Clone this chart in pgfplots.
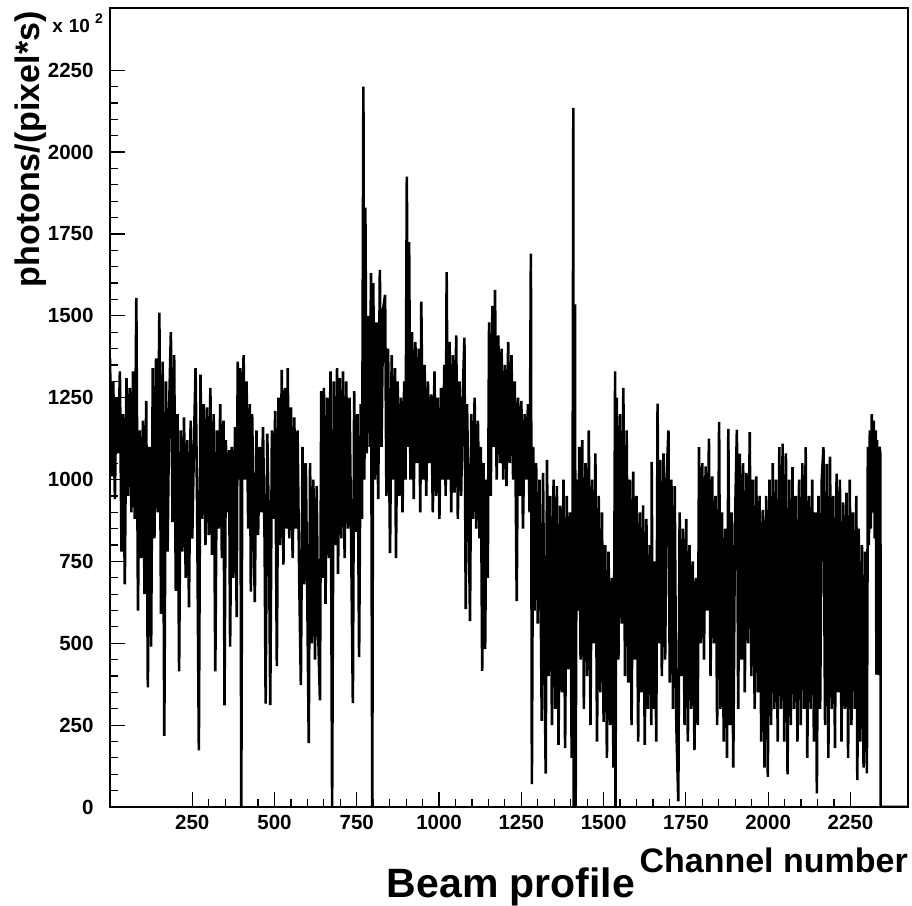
\documentclass[border=0pt]{standalone}
\usepackage{fontspec}
\setmainfont{Liberation Sans}
\usepackage{pgfplots}
\pgfplotsset{compat=1.18}
\begin{document}
\begin{tikzpicture}
\useasboundingbox (-110bp,-99bp) rectangle (802bp,807bp);
\begin{axis}[
    at={(0,0)}, anchor=south west,
    scale only axis, width=798bp, height=799bp,
    xmin=0, xmax=2425, ymin=0, ymax=2440,
    xtick={250,500,...,2250}, ytick={0,250,...,2250},
    minor x tick num=4, minor y tick num=4,
    xtick pos=bottom, ytick pos=left, tick align=inside,
    major tick length=15bp, minor tick length=8bp,
    axis line style={line width=1.2bp},
    every tick/.style={black, line width=1.2bp},
    /pgf/number format/assume math mode=true,
    /pgf/number format/set thousands separator={},
    ticklabel style={font=\bfseries\fontsize{20.5bp}{24bp}\selectfont},
    xticklabel style={yshift=-5bp},
    yticklabel style={xshift=-13bp},
    clip=true,
]
% histogram of the beam profile, one value every few channels
\addplot[sharp plot, mark=none, black, line width=2.6bp, line join=bevel] coordinates {
(0,1370)(5,1010)(10,1300)(13,1050)(15,940)(18,1200)(20,1250)(25,1080)(30,1330)(35,780)(40,1200)(45,680)
(50,1310)(53,1000)(55,950)(58,1220)(60,1280)(65,900)(70,1330)(75,880)(80,1555)(85,600)(90,1150)(95,760)
(100,1180)(105,650)(110,1240)(115,365)(120,1100)(125,490)(130,1340)(135,820)(140,1370)(145,900)
(150,1510)(155,590)(160,1360)(165,217)(170,1300)(175,780)(180,1230)(185,1450)(190,870)(195,1380)
(200,660)(205,1200)(210,414)(215,1150)(220,780)(225,1190)(230,700)(235,1120)(240,610)(245,1180)
(250,820)(255,1100)(260,1340)(265,900)(270,173)(275,1320)(280,880)(285,1230)(290,800)(295,1220)
(300,830)(305,1280)(310,770)(315,1200)(320,414)(325,1150)(330,850)(335,1230)(340,760)(345,1180)
(348,310)(352,1120)(357,900)(362,1090)(365,490)(370,1100)(375,700)(380,1160)(385,580)(388,1360)
(392,1000)(396,1340)(399,0)(402,1150)(406,1380)
(410,1000)(415,1300)(420,850)(425,1230)(428,658)(432,1200)(436,900)(440,626)(445,1150)(450,830)
(455,1100)(460,900)(465,1160)(470,800)(473,316)(478,1140)(483,850)(487,311)(492,1150)(497,880)
(502,1210)(507,430)(512,1250)(517,800)(522,1335)(527,740)(532,1280)(537,850)(540,1340)(545,820)
(550,1220)(555,760)(560,1190)(565,850)(570,1150)(575,700)(580,372)(585,1100)(590,680)(595,1050)
(600,600)(604,195)(608,1050)(613,500)(618,1000)(623,450)(628,980)(633,520)(638,326)(642,1270)
(646,700)(650,1280)(655,620)(660,1250)(665,760)(670,1330)(675,0)(680,1300)(685,800)(690,1340)
(693,712)(698,1310)(703,820)(708,1330)(713,760)(718,1300)(723,850)(728,1250)(733,800)(738,317)
(742,1270)(747,840)(752,1200)(757,458)(762,1230)(766,880)(770,2200)(773,1000)(776,1830)(780,1080)
(785,1500)(790,1100)(793,1630)(797,0)(800,1600)(805,1000)(810,1480)(815,940)
(820,1640)(825,1100)(830,1520)(836,1564)(840,950)(845,1400)(851,775)(856,1380)(861,1000)(866,1340)
(869,760)(874,1300)(879,950)(884,1250)(889,900)(894,1300)(898,1000)(902,1925)(906,1100)(909,1725)
(913,1000)(918,1450)(923,940)(928,1420)(933,1050)(938,1400)(943,900)(946,1543)(951,1000)(956,1350)
(961,950)(966,1300)(971,1050)(976,1260)(981,900)(986,1330)(991,950)(996,1250)(1001,880)(1006,1280)
(1011,1000)(1016,1350)(1020,950)(1023,1633)(1027,1000)(1032,1420)(1037,900)(1042,1380)(1047,960)(1052,1440)
(1057,880)(1062,1300)(1067,950)(1072,1250)(1077,1433)(1081,604)(1085,1230)(1090,900)(1094,568)(1098,1200)
(1103,880)(1108,1250)(1113,850)(1118,1180)(1123,820)(1127,1100)(1131,416)(1135,1050)(1140,482)(1144,1000)
(1148,700)(1152,1480)(1157,950)(1162,1530)(1166,1100)(1170,1579)(1175,1000)(1180,1440)(1185,1050)(1190,1400)
(1195,1000)(1200,1350)(1205,980)(1210,1420)(1215,1050)(1220,1380)(1225,1000)(1230,1300)
(1236,629)(1240,1250)(1245,950)(1250,1240)(1255,850)(1260,1200)(1265,1000)(1270,1230)(1275,900)(1279,1690)
(1282,70)(1286,1100)(1290,600)(1295,1050)(1300,560)(1305,1000)(1309,620)(1312,263)(1316,1020)(1320,500)
(1324,102)(1328,1060)(1333,400)(1338,950)(1343,250)(1348,1000)(1353,300)(1358,980)(1363,190)(1368,920)
(1373,350)(1378,1000)(1383,180)(1388,950)(1393,420)(1398,900)(1403,150)(1406,1000)(1408,2135)(1409,0)
(1411,1000)(1413,1535)(1415,0)(1418,1000)(1422,600)(1426,1100)(1430,450)(1435,1120)(1440,300)(1445,1050)
(1450,400)(1455,1150)(1460,250)(1465,1000)(1470,500)(1475,1080)(1480,200)(1485,950)(1490,350)(1495,900)
(1500,260)(1505,800)(1510,150)(1515,780)(1520,250)(1525,700)(1530,120)(1535,1330)(1536,0)(1540,1250)
(1545,450)(1550,1200)(1555,560)(1560,1280)(1565,400)(1570,1150)(1575,380)(1580,1000)(1585,250)(1590,1024)
(1595,450)(1600,950)(1605,200)(1610,900)(1615,350)(1620,921)(1625,190)(1630,880)(1635,300)(1640,800)
(1645,250)(1646,1054)(1650,300)(1655,750)(1660,200)(1664,1232)(1668,500)(1672,1060)(1677,400)(1682,1080)
(1687,450)(1692,1020)(1697,1150)(1701,380)(1706,1000)(1711,300)(1716,980)(1721,250)(1727,17)(1731,900)
(1736,400)(1741,850)(1746,250)(1751,880)(1756,200)(1761,800)(1766,300)(1771,750)(1776,174)(1781,700)
(1786,250)(1790,1099)(1795,500)(1800,1050)(1805,450)(1810,1040)(1815,600)(1820,1125)(1825,400)(1830,1010)
(1835,500)(1840,950)(1845,250)(1851,1176)(1855,300)(1860,900)(1865,200)(1870,850)(1875,150)(1879,1155)
(1884,250)(1889,900)(1894,120)(1899,850)(1905,1152)(1909,300)(1914,1079)(1919,450)(1924,1050)(1929,350)
(1934,1020)(1939,500)(1944,1145)(1949,400)(1954,1000)(1959,300)(1964,1010)(1969,350)(1974,950)(1979,200)
(1984,907)(1989,120)(1994,950)(1999,92)(2004,1000)(2009,250)(2014,1050)(2019,300)(2024,1000)(2029,200)
(2034,1099)(2039,300)(2044,1110)(2049,200)(2054,1080)(2059,100)(2064,1000)(2069,250)(2074,1038)(2079,300)
(2084,950)(2089,200)(2094,1000)(2099,250)(2104,1050)(2109,300)(2114,1099)(2119,150)(2124,950)(2129,300)
(2134,1000)(2139,200)(2144,900)(2148,42)(2153,950)(2158,300)(2163,1000)(2168,1099)(2173,250)(2178,1048)
(2183,150)(2188,1070)(2193,300)(2198,950)(2203,180)(2208,1018)(2213,350)(2218,1000)(2223,200)(2228,930)
(2233,300)(2238,960)(2243,150)(2248,1000)(2253,250)(2258,900)(2263,300)(2268,950)(2271,82)(2275,850)
(2280,200)(2285,800)(2290,120)(2295,780)(2300,103)(2303,1100)(2306,800)(2309,1150)(2312,850)(2315,1200)
(2318,900)(2321,1180)(2324,820)(2327,1150)(2329,404)(2331,1120)(2334,800)(2336,403)(2338,1100)(2341,1080)
(2342,0)(2425,0)
};
\end{axis}
\node[anchor=base east, rotate=90, font=\bfseries\fontsize{34bp}{40bp}\selectfont]
  at (-70bp,799bp) {photons/(pixel*s)};
\node[anchor=base east, inner sep=0pt, font=\bfseries]
  at (-7bp,774bp) {{\fontsize{19bp}{22bp}\selectfont x\hspace{6bp}10}\raisebox{9bp}{\fontsize{14bp}{17bp}\selectfont\hspace{5bp}2}};
\node[anchor=base east, inner sep=0pt, font=\bfseries\fontsize{34bp}{40bp}\selectfont]
  at (798bp,-65bp) {Channel number};
\node[anchor=base, inner sep=0pt, font=\bfseries\fontsize{41bp}{48bp}\selectfont]
  at (401bp,-90bp) {Beam profile};
\end{tikzpicture}
\end{document}
